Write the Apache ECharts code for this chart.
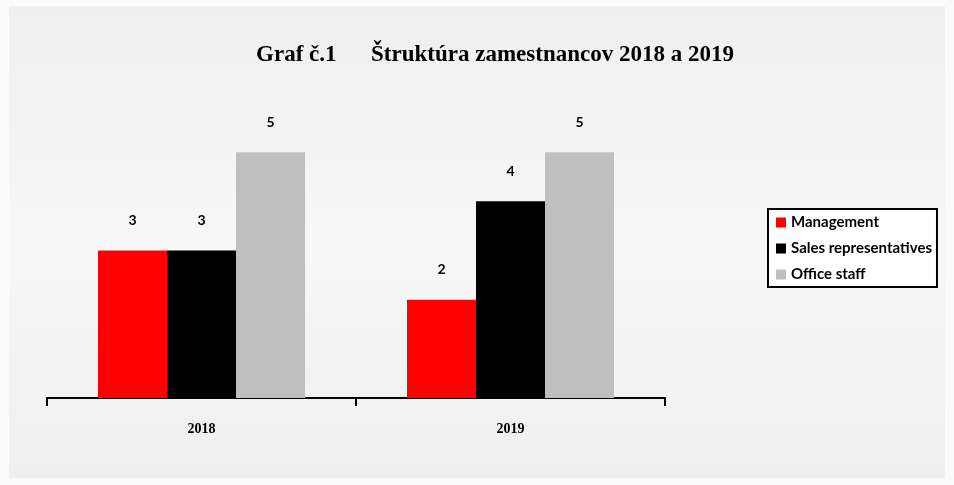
<!DOCTYPE html>
<html>
<head>
<meta charset="utf-8">
<script src="https://cdn.jsdelivr.net/npm/echarts@6/dist/echarts.min.js"></script>
<style>
html,body{margin:0;padding:0;background:#fbfbfb;}
#chart{width:954px;height:485px;}
</style>
</head>
<body>
<div id="chart"></div>
<script>
var years=['2018','2019'];
var seriesNames=['Management','Sales representatives','Office staff'];
var management=[3,2];
var salesReps=[3,4];
var officeStaff=[5,5];
var colors=['#ff0000','#000000','#bfbfbf'];

var chart=echarts.init(document.getElementById('chart'));

function barSeries(name,data){
	return {
		name:name,
		type:'bar',
		data:data,
		barGap:'0%',
		barCategoryGap:'33%',
		label:{
			show:true,
			position:'top',
			distance:23,
			color:'#000',
			fontFamily:'Lato',
			fontWeight:'bold',
			fontSize:14
		}
	};
}

chart.setOption({
	color:colors,
	animation:false,
	graphic:[{
		type:'rect',
		z:-10,
		shape:{x:9,y:6,width:936,height:472},
		style:{
			fill:new echarts.graphic.LinearGradient(0,0,0,1,[
				{offset:0,color:'#efefef'},
				{offset:0.5,color:'#f7f7f7'},
				{offset:1,color:'#efefef'}
			])
		}
	}],
	title:{
		text:'Graf č.1      Štruktúra zamestnancov 2018 a 2019',
		left:490,
		textAlign:'center',
		top:39,
		textStyle:{
			fontFamily:'Liberation Serif',
			fontWeight:'bold',
			fontSize:23,
			color:'#000'
		}
	},
	legend:{
		orient:'vertical',
		left:768,
		top:209,
		itemWidth:10,
		itemHeight:10,
		itemGap:11,
		padding:[6,5,5,8],
		backgroundColor:'#ffffff',
		borderColor:'#000',
		borderWidth:2,
		borderRadius:0,
		icon:'rect',
		textStyle:{
			fontFamily:'Lato',
			fontWeight:'bold',
			fontSize:15,
			color:'#000'
		},
		data:seriesNames
	},
	grid:{
		left:47,
		right:289,
		top:103,
		bottom:87
	},
	xAxis:{
		type:'category',
		data:years,
		axisLine:{lineStyle:{color:'#000',width:2}},
		axisTick:{show:true,length:8,lineStyle:{color:'#000',width:2}},
		axisLabel:{
			margin:24,
			fontFamily:'Liberation Serif',
			fontWeight:'bold',
			fontSize:14,
			color:'#000'
		}
	},
	yAxis:{
		type:'value',
		min:0,
		max:6,
		show:false
	},
	series:[
		barSeries(seriesNames[0],management),
		barSeries(seriesNames[1],salesReps),
		barSeries(seriesNames[2],officeStaff)
	]
});
</script>
</body>
</html>
